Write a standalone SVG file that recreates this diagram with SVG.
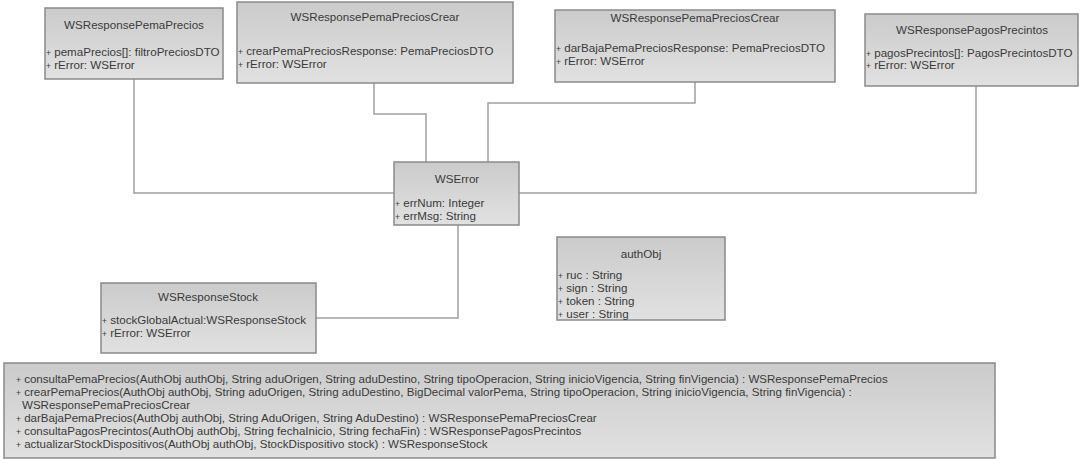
<svg xmlns="http://www.w3.org/2000/svg" width="1081" height="459" viewBox="0 0 1081 459">
<defs>
<linearGradient id="g" x1="0" y1="0" x2="0" y2="1">
<stop offset="0" stop-color="#cbcbcb"/>
<stop offset="1" stop-color="#e1e1e1"/>
</linearGradient>
<style>
.box{fill:url(#g);stroke:#8a8a8a;stroke-width:1.5}
.t{font-family:"Liberation Sans",Arial,sans-serif;font-size:11.6px;fill:#3a3a3a;text-anchor:middle}
.a{font-family:"Liberation Sans",Arial,sans-serif;font-size:11.6px;fill:#3a3a3a}
.m{font-family:"Liberation Sans",Arial,sans-serif;font-size:11.55px;fill:#3a3a3a}
.p{font-size:8.5px}
.c{fill:none;stroke:#a0a0a0;stroke-width:1.5}
</style>
</defs>
<rect width="1081" height="459" fill="#ffffff"/>
<g id="connectors">
<polyline class="c" points="134,79 134,193 394,193"/>
<polyline class="c" points="374,83 374,114 426,114 426,162"/>
<polyline class="c" points="695,82 695,103 488,103 488,162"/>
<polyline class="c" points="976,86 976,193 519,193"/>
<polyline class="c" points="458,225 458,318 316,318"/>
</g>
<g id="WSResponsePemaPrecios">
<rect class="box" x="45" y="8" width="178" height="71"/>
<text class="t" x="134" y="29">WSResponsePemaPrecios</text>
<text class="a" x="46" y="56"><tspan class="p">+</tspan> pemaPrecios[]: filtroPreciosDTO</text>
<text class="a" x="46" y="69"><tspan class="p">+</tspan> rError: WSError</text>
</g>
<g id="WSResponsePemaPreciosCrear">
<rect class="box" x="237" y="2" width="276" height="81"/>
<text class="t" x="375" y="21">WSResponsePemaPreciosCrear</text>
<text class="a" x="238" y="55"><tspan class="p">+</tspan> crearPemaPreciosResponse: PemaPreciosDTO</text>
<text class="a" x="238" y="68"><tspan class="p">+</tspan> rError: WSError</text>
</g>
<g id="WSResponsePemaPreciosCrear2">
<rect class="box" x="555" y="10" width="280" height="72"/>
<text class="t" x="695" y="22">WSResponsePemaPreciosCrear</text>
<text class="a" x="556" y="52"><tspan class="p">+</tspan> darBajaPemaPreciosResponse: PemaPreciosDTO</text>
<text class="a" x="556" y="65"><tspan class="p">+</tspan> rError: WSError</text>
</g>
<g id="WSResponsePagosPrecintos">
<rect class="box" x="865" y="14" width="213" height="72"/>
<text class="t" x="972" y="34">WSResponsePagosPrecintos</text>
<text class="a" x="866" y="57"><tspan class="p">+</tspan> pagosPrecintos[]: PagosPrecintosDTO</text>
<text class="a" x="866" y="69"><tspan class="p">+</tspan> rError: WSError</text>
</g>
<g id="WSError">
<rect class="box" x="394" y="162" width="125" height="63"/>
<text class="t" x="457" y="183">WSError</text>
<text class="a" x="395" y="207"><tspan class="p">+</tspan> errNum: Integer</text>
<text class="a" x="395" y="220"><tspan class="p">+</tspan> errMsg: String</text>
</g>
<g id="authObj">
<rect class="box" x="557" y="237" width="168" height="83"/>
<text class="t" x="641" y="258">authObj</text>
<text class="a" x="558" y="279"><tspan class="p">+</tspan> ruc : String</text>
<text class="a" x="558" y="292"><tspan class="p">+</tspan> sign : String</text>
<text class="a" x="558" y="305"><tspan class="p">+</tspan> token : String</text>
<text class="a" x="558" y="318"><tspan class="p">+</tspan> user : String</text>
</g>
<g id="WSResponseStock">
<rect class="box" x="101" y="283" width="215" height="70"/>
<text class="t" x="208" y="301">WSResponseStock</text>
<text class="a" x="102" y="324"><tspan class="p">+</tspan> stockGlobalActual:WSResponseStock</text>
<text class="a" x="102" y="337"><tspan class="p">+</tspan> rError: WSError</text>
</g>
<g id="Operations">
<rect class="box" x="4" y="363" width="991" height="95"/>
<text class="m" x="16" y="383"><tspan class="p">+</tspan> consultaPemaPrecios(AuthObj authObj, String aduOrigen, String aduDestino, String tipoOperacion, String inicioVigencia, String finVigencia) : WSResponsePemaPrecios</text>
<text class="m" x="16" y="396"><tspan class="p">+</tspan> crearPemaPrecios(AuthObj authObj, String aduOrigen, String aduDestino, BigDecimal valorPema, String tipoOperacion, String inicioVigencia, String finVigencia) :</text>
<text class="m" x="22" y="409">WSResponsePemaPreciosCrear</text>
<text class="m" x="16" y="422"><tspan class="p">+</tspan> darBajaPemaPrecios(AuthObj authObj, String AduOrigen, String AduDestino) : WSResponsePemaPreciosCrear</text>
<text class="m" x="16" y="435"><tspan class="p">+</tspan> consultaPagosPrecintos(AuthObj authObj, String fechaInicio, String fechaFin) : WSResponsePagosPrecintos</text>
<text class="m" x="16" y="448"><tspan class="p">+</tspan> actualizarStockDispositivos(AuthObj authObj, StockDispositivo stock) : WSResponseStock</text>
</g>
</svg>
